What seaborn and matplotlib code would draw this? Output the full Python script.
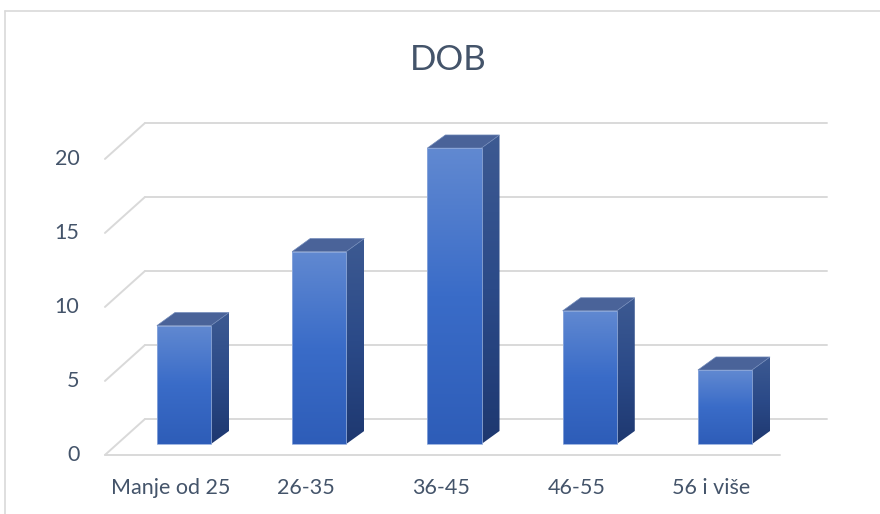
import numpy as np
import matplotlib
matplotlib.use("Agg")
import matplotlib.pyplot as plt
from matplotlib.patches import Polygon
from matplotlib.colors import LinearSegmentedColormap
from matplotlib.lines import Line2D
import seaborn as sns

# data
categories = ["Manje od 25", "26-35", "36-45", "46-55", "56 i više"]
values = [8, 13, 20, 9, 5]
y_ticks = [0, 5, 10, 15, 20]
title = "DOB"

sns.set_style("white")
plt.rcParams["font.family"] = ["Lato", "DejaVu Sans"]
text_col = "#44546A"
grid_col = "#D9D9D9"

fig = plt.figure(figsize=(8.8, 5.14), dpi=100)
ax = fig.add_axes([0, 0, 1, 1])

# pseudo-3D geometry (in data units)
bar_w = 0.4
side_dx, side_dy = 0.133, 0.88          # bar depth offset
floor_front, floor_back = -0.74, 1.69  # wall/floor depth offsets
x_front, x_back, x_end, x_floor_end = -0.584, -0.288, 4.754, 4.407

# gridlines: back wall + diagonal left side
for v in y_ticks:
    ax.plot([x_back, x_end], [v + floor_back, v + floor_back], color=grid_col, lw=1.4, zorder=1)
    ax.plot([x_front, x_back], [v + floor_front, v + floor_back], color=grid_col, lw=1.4, zorder=1)
    ax.text(x_front - 0.19, v + floor_front, str(v), ha="right", va="center",
            fontsize=15.5, color=text_col)
ax.plot([x_front, x_floor_end], [floor_front, floor_front], color=grid_col, lw=1.4, zorder=1)

# front faces via seaborn
sns.barplot(x=categories, y=values, width=bar_w, color="#4472C4", ax=ax, zorder=3)

front_cmap = LinearSegmentedColormap.from_list("f", ["#2E5DB8", "#3A6CC8", "#6189D1"])
side_cmap = LinearSegmentedColormap.from_list("s", ["#1E3870", "#2B4A88", "#3D5A92"])
grad = np.linspace(0, 1, 256).reshape(-1, 1)

for p in ax.patches[:]:
    x0, y0 = p.get_x(), p.get_y()
    w, h = p.get_width(), p.get_height()
    p.set_facecolor("none")
    p.set_edgecolor("#8FAADC")
    p.set_linewidth(0.6)
    p.set_zorder(5)
    im = ax.imshow(grad, cmap=front_cmap, origin="lower", aspect="auto",
                   extent=[x0, x0 + w, y0, y0 + h], zorder=3)
    im.set_clip_path(p)
    # right side face
    side = Polygon([(x0 + w, y0), (x0 + w + side_dx, y0 + side_dy),
                    (x0 + w + side_dx, y0 + h + side_dy), (x0 + w, y0 + h)],
                   closed=True, facecolor="none", edgecolor="none", zorder=3)
    ax.add_patch(side)
    im2 = ax.imshow(grad, cmap=side_cmap, origin="lower", aspect="auto",
                    extent=[x0 + w, x0 + w + side_dx, y0, y0 + h + side_dy], zorder=3)
    im2.set_clip_path(side)
    # top face
    top = Polygon([(x0, y0 + h), (x0 + w, y0 + h), (x0 + w + side_dx, y0 + h + side_dy),
                   (x0 + side_dx, y0 + h + side_dy)],
                  closed=True, facecolor="#4A6399", edgecolor="#6F88B8", lw=0.5, zorder=4)
    ax.add_patch(top)

# category labels
for i, c in enumerate(categories):
    ax.text(i - 0.1, -2.95, c, ha="center", va="center", fontsize=15.5, color=text_col)

ax.set_xlim(-1.360, 5.146)
ax.set_ylim(-4.73, 30.0)
ax.axis("off")

fig.text(448 / 880, 1 - 60 / 514, title, ha="center", va="center", fontsize=25, color=text_col)

# chart area border (cropped on right and bottom)
fig.add_artist(Line2D([5 / 880, 5 / 880], [0, 1 - 11 / 514], color=grid_col, lw=1.2))
fig.add_artist(Line2D([5 / 880, 1], [1 - 11 / 514, 1 - 11 / 514], color=grid_col, lw=1.2))

fig.savefig("out.png", dpi=100)
